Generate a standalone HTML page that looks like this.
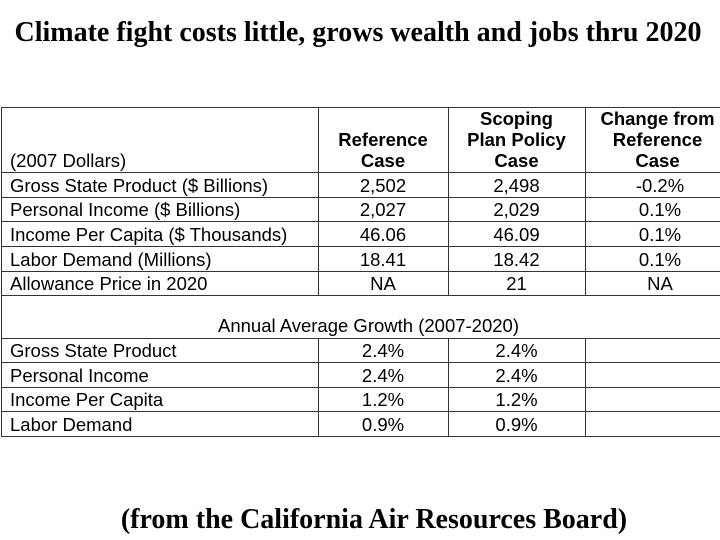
<!DOCTYPE html>
<html><head><meta charset="utf-8"><style>
body{margin:0;width:720px;height:540px;background:#fff;position:relative;overflow:hidden;font-family:"Liberation Sans",Arial,sans-serif;color:#000}
.t{position:absolute;font-family:"Liberation Serif",serif;font-weight:bold;font-size:28px;line-height:32px;width:720px;text-align:center}
.h{position:absolute;height:1px;background:#333}
.v{position:absolute;width:1px;background:#333}
.c{position:absolute;font-size:18.5px;line-height:22px;white-space:nowrap}
.b{font-weight:bold;text-align:center;line-height:21px}
</style></head><body>
<div class="t" style="top:17px;left:-2px">Climate fight costs little, grows wealth and jobs thru 2020</div>
<div class="t" style="top:504px;left:14px">(from the California Air Resources Board)</div>
<div id="tbl"></div>
<script>
const rowsTop=[["(2007 Dollars)","","",""],["Gross State Product ($ Billions)","2,502","2,498","-0.2%"],["Personal Income ($ Billions)","2,027","2,029","0.1%"],["Income Per Capita ($ Thousands)","46.06","46.09","0.1%"],["Labor Demand (Millions)","18.41","18.42","0.1%"],["Allowance Price in 2020","NA","21","NA"]];
const rowsGrowth=[["Gross State Product","2.4%","2.4%",""],["Personal Income","2.4%","2.4%",""],["Income Per Capita","1.2%","1.2%",""],["Labor Demand","0.9%","0.9%",""]];
const tbl=document.getElementById('tbl');
const cols=[1,318,448,585,721];
function line(cls,x,y,w,h){const d=document.createElement('div');d.className=cls;d.style.left=x+'px';d.style.top=y+'px';if(w)d.style.width=w+'px';if(h)d.style.height=h+'px';


tbl.appendChild(d);}
function txt(s,x,y,w,align,extra){const d=document.createElement('div');d.className='c'+(extra?' '+extra:'');d.style.left=x+'px';d.style.top=y+'px';d.style.width=w+'px';d.style.textAlign=align;d.innerHTML=s;


tbl.appendChild(d);}
const topY=[172,197,221,246,271,295];
const botY=[338,362,387,411,436];
line('h',1,107,719,0);
[...topY,...botY].forEach(y=>line('h',1,y,719,0));
line('v',1,107,0,329);
[1,2,3].forEach(i=>{line('v',cols[i],107,0,188);line('v',cols[i],338,0,98);});
txt('Reference<br>Case',318,129,130,'center','b');
txt('Scoping<br>Plan Policy<br>Case',448,108,137,'center','b');
txt('Change from<br>Reference<br>Case',585,108,145,'center','b');
rowsTop.forEach((r,i)=>{const y=(i==0?172:topY[i])-22;
txt(r[0],10,y,300,'left');
if(i>0){txt(r[1],318,y,130,'center');txt(r[2],448,y,137,'center');txt(r[3],585,y,150,'center');}});
txt('Annual Average Growth (2007-2020)',1,315,735,'center');
rowsGrowth.forEach((r,i)=>{const y=botY[i+1]-22;
txt(r[0],10,y,300,'left');txt(r[1],318,y,130,'center');txt(r[2],448,y,137,'center');});
</script>
</body></html>
